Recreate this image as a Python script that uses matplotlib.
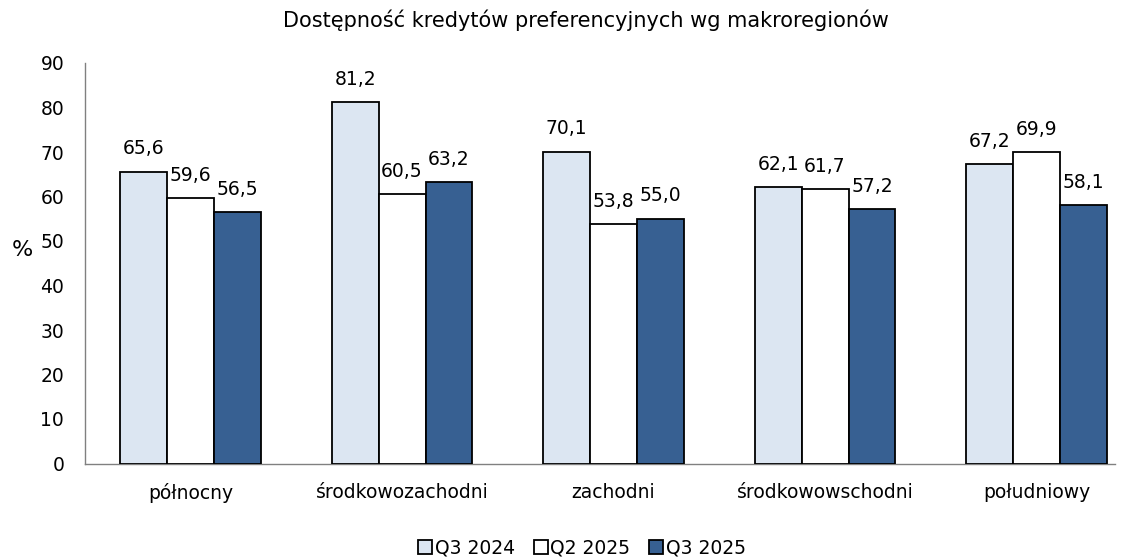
import matplotlib
matplotlib.use("Agg")
import matplotlib.pyplot as plt
import numpy as np

title = "Dostępność kredytów preferencyjnych wg makroregionów"
regions = ["północny", "środkowozachodni", "zachodni", "środkowowschodni", "południowy"]
series_names = ["Q3 2024", "Q2 2025", "Q3 2025"]
q3_2024 = [65.6, 81.2, 70.1, 62.1, 67.2]
q2_2025 = [59.6, 60.5, 53.8, 61.7, 69.9]
q3_2025 = [56.5, 63.2, 55.0, 57.2, 58.1]
y_ticks = [0, 10, 20, 30, 40, 50, 60, 70, 80, 90]

colors = ["#DCE6F2", "#FFFFFF", "#376092"]

W, H = 1132, 560
fig = plt.figure(figsize=(W / 100, H / 100), dpi=100)
plt.rcParams["font.family"] = ["DejaVu Sans"]
fs = 13.5

left_px, right_px, top_px, bottom_px = 85, 1115, 63, 463.5
ax = fig.add_axes([left_px / W, 1 - bottom_px / H,
                   (right_px - left_px) / W, (bottom_px - top_px) / H])

x = np.arange(len(regions))
bw = 0.222
for i, (vals, name, c) in enumerate(zip([q3_2024, q2_2025, q3_2025], series_names, colors)):
    pos = x + (i - 1) * bw
    ax.bar(pos, vals, width=bw, color=c, edgecolor="black",
           linewidth=1.3, label=name, zorder=3)
    for xp, v in zip(pos, vals):
        ax.annotate(f"{v:.1f}".replace(".", ","), (xp, v), xytext=(0, 12.5),
                    textcoords="offset points", ha="center", va="baseline",
                    fontsize=fs, color="black")

ax.set_xlim(-0.499, 4.371)
ax.set_ylim(0, 90)
ax.set_yticks(y_ticks)
ax.set_xticks(x)
ax.set_xticklabels(regions)
ax.tick_params(axis="both", length=0, labelsize=fs)
ax.tick_params(axis="y", pad=15)
ax.tick_params(axis="x", pad=14)
for s in ["top", "right"]:
    ax.spines[s].set_visible(False)
for s in ["left", "bottom"]:
    ax.spines[s].set_color("#808080")
    ax.spines[s].set_linewidth(1.0)

fig.text(22 / W, 1 - 250 / H, "%", ha="center", va="center", fontsize=16)
fig.text(586 / W, 1 - 20 / H, title, ha="center", va="center", fontsize=15)

fig.legend(loc="center", bbox_to_anchor=(582 / W, 1 - 548 / H), ncol=3,
           frameon=False, fontsize=fs, handlelength=0.75, handleheight=0.75,
           handletextpad=0.15, columnspacing=1.0, borderaxespad=0)

fig.savefig("out.png", dpi=100)
